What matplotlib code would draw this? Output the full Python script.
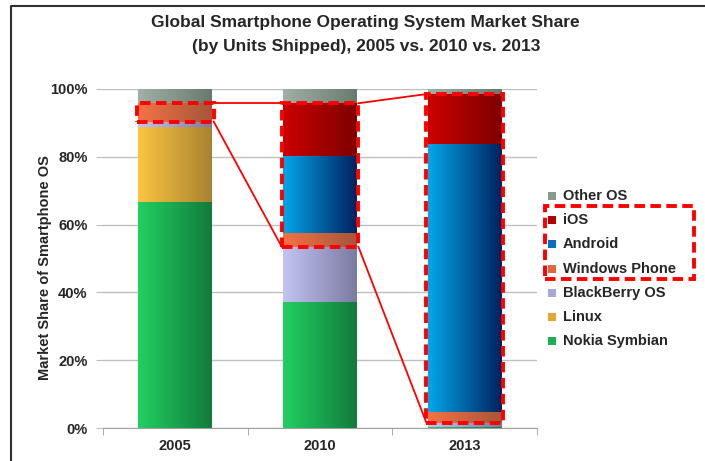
import numpy as np
import matplotlib
matplotlib.use("Agg")
import matplotlib.pyplot as plt
from matplotlib.colors import LinearSegmentedColormap
from matplotlib.patches import Rectangle
from matplotlib.lines import Line2D

plt.rcParams['font.family'] = ['Liberation Sans', 'DejaVu Sans']
plt.rcParams['font.weight'] = 'bold'

# ---- data ----
years = ["2005", "2010", "2013"]
series = ["Nokia Symbian", "Linux", "BlackBerry OS", "Windows Phone", "Android", "iOS", "Other OS"]
nokia = [66.7, 37.3, 0.3]
linux = [22.2, 0.0, 0.0]
blackberry = [1.5, 16.2, 1.3]
windows = [5.4, 3.9, 3.2]
android = [0.0, 22.8, 78.9]
ios = [0.0, 15.6, 14.8]
other = [4.2, 4.2, 1.5]
values = [nokia, linux, blackberry, windows, android, ios, other]

# gradient colours (left, right)
grad = {
    "Nokia Symbian": ("#22d061", "#137a3c"),
    "Linux": ("#fbc541", "#a88230"),
    "BlackBerry OS": ("#c4c4f4", "#7a7aa2"),
    "Windows Phone": ("#f57245", "#a5563a"),
    "Android": ("#00a8ec", "#00215e"),
    "iOS": ("#cc0000", "#7e0000"),
    "Other OS": ("#a2b0a4", "#687a6e"),
}
legend_col = {
    "Nokia Symbian": "#1fae55",
    "Linux": "#e0a830",
    "BlackBerry OS": "#a8a8d8",
    "Windows Phone": "#e06840",
    "Android": "#0070c0",
    "iOS": "#b00000",
    "Other OS": "#8a9a8e",
}

# highlighted groups per year (series names in the dashed box)
highlight = [["Windows Phone"], ["Windows Phone", "Android", "iOS"], ["Windows Phone", "Android", "iOS"]]

W, H = 705, 461
fig = plt.figure(figsize=(W / 100, H / 100), dpi=100)
ax = fig.add_axes([103 / W, 1 - 428 / H, (537 - 103) / W, (428 - 89) / H])

x = np.arange(len(years))
bw = 0.51
grad_img = np.linspace(0, 1, 256).reshape(1, -1)
dash = (0, (2.7, 1.4))

cum = np.zeros(len(years))
bounds = {}
for name, vals in zip(series, values):
    vals = np.array(vals)
    cmap = LinearSegmentedColormap.from_list(name, grad[name])
    for i in range(len(years)):
        if vals[i] > 0:
            ax.imshow(grad_img, cmap=cmap, aspect='auto', interpolation='bilinear',
                      extent=(x[i] - bw / 2, x[i] + bw / 2, cum[i], cum[i] + vals[i]),
                      zorder=2)
        bounds[(name, i)] = (cum[i], cum[i] + vals[i])
    cum = cum + vals

# dashed highlight boxes and connecting lines
bxw = 0.53
boxes = []
for i, grp in enumerate(highlight):
    lo = min(bounds[(g, i)][0] for g in grp)
    hi = max(bounds[(g, i)][1] for g in grp)
    boxes.append((lo, hi))
    ax.add_patch(Rectangle((x[i] - bxw / 2, lo), bxw, hi - lo, fill=False,
                           edgecolor='#ff0000', lw=2.8, linestyle=dash,
                           zorder=5, clip_on=False))
for i in range(len(years) - 1):
    for k in (0, 1):
        ax.add_line(Line2D([x[i] + bxw / 2, x[i + 1] - bxw / 2],
                           [boxes[i][k], boxes[i + 1][k]],
                           color='#ff0000', lw=1.3, zorder=4))

ax.set_xlim(-0.5, len(years) - 0.5)
ax.set_ylim(0, 100)
ax.set_yticks(np.arange(0, 101, 20))
ax.set_yticklabels([f"{v}%" for v in range(0, 101, 20)])
ax.yaxis.grid(True, color='#bfbfbf', lw=1)
ax.set_axisbelow(True)
for s in ['top', 'right', 'left']:
    ax.spines[s].set_visible(False)
ax.spines['bottom'].set_color('#a0a0a0')
ax.set_xticks(x)
ax.set_xticklabels(years)
ax.set_xticks(np.arange(-0.5, len(years), 1), minor=True)
ax.tick_params(axis='x', which='major', length=0, pad=8, labelsize=10.5, labelcolor='#262626')
ax.tick_params(axis='x', which='minor', length=5, color='#a0a0a0')
ax.tick_params(axis='y', length=5, color='#bfbfbf', labelsize=10.5, labelcolor='#262626', pad=6)
for lab in ax.get_xticklabels() + ax.get_yticklabels():
    lab.set_fontweight('bold')

fig.text(45 / W, 1 - 268 / H, "Market Share of Smartphone OS", rotation=90,
         ha='center', va='center', fontsize=10.5, fontweight='bold', color='#262626')

fig.text(365 / W, 1 - 22 / H, "Global Smartphone Operating System Market Share",
         ha='center', va='center', fontsize=12.5, fontweight='bold', color='#262626')
fig.text(366 / W, 1 - 47 / H, "(by Units Shipped), 2005 vs. 2010 vs. 2013",
         ha='center', va='center', fontsize=12.5, fontweight='bold', color='#262626')

# legend (manual)
leg_order = list(reversed(series))
y0, dy = 196, 24.2
for j, name in enumerate(leg_order):
    yy = y0 + j * dy
    fig.patches.append(Rectangle((548 / W, 1 - (yy + 4) / H), 8 / W, 8 / H,
                                 transform=fig.transFigure, facecolor=legend_col[name],
                                 edgecolor='none'))
    fig.text(563 / W, 1 - yy / H, name, ha='left', va='center', fontsize=10.5,
             fontweight='bold', color='#262626')
fig.patches.append(Rectangle((545 / W, 1 - 279 / H), (694 - 545) / W, (279 - 206) / H,
                             transform=fig.transFigure, fill=False, edgecolor='#ff0000',
                             lw=2.8, linestyle=dash))

# frame lines of the original picture
fig.lines.append(Line2D([11 / W, 11 / W, 1.0], [0, 1 - 6 / H, 1 - 6 / H],
                        transform=fig.transFigure, color='#303030', lw=1.5))

fig.savefig("out.png", dpi=100)
